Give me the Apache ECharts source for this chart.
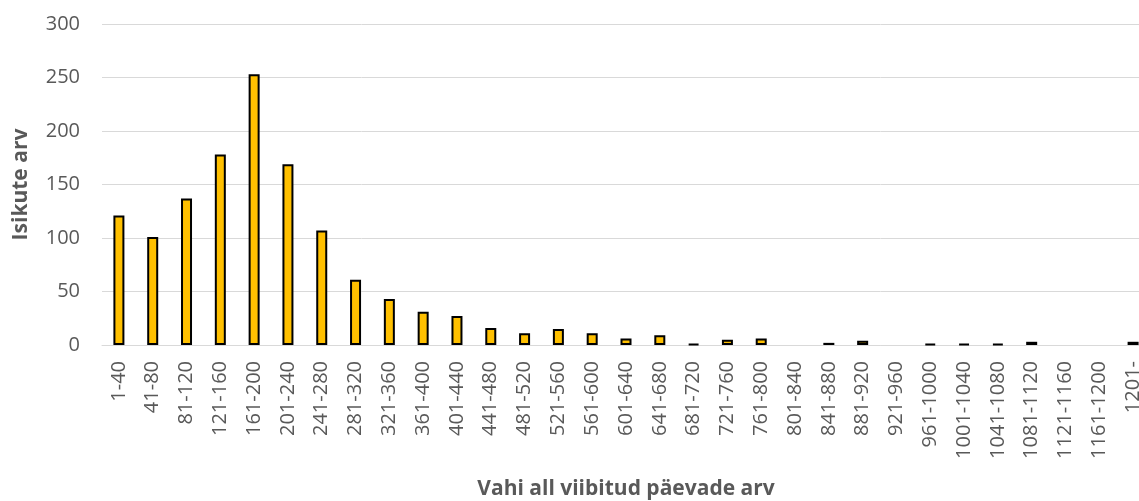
<!DOCTYPE html>
<html>
<head>
<meta charset="utf-8">
<script src="https://cdn.jsdelivr.net/npm/echarts@6/dist/echarts.min.js"></script>
<style>
  html, body { margin: 0; padding: 0; background: #fff; }
  #chart { width: 1139px; height: 501px; }
</style>
</head>
<body>
<div id="chart"></div>
<script>
var categories = ["1-40", "41-80", "81-120", "121-160", "161-200", "201-240", "241-280",
    "281-320", "321-360", "361-400", "401-440", "441-480", "481-520", "521-560",
    "561-600", "601-640", "641-680", "681-720", "721-760", "761-800", "801-840",
    "841-880", "881-920", "921-960", "961-1000", "1001-1040", "1041-1080",
    "1081-1120", "1121-1160", "1161-1200", "1201-"];
var counts = [121, 101, 137, 178, 253, 169, 107, 61, 43, 31, 27, 16, 11, 15, 11, 6, 9,
    1, 5, 6, 0, 2, 4, 0, 1, 1, 1, 3, 0, 0, 3];
var yTicks = [0, 50, 100, 150, 200, 250, 300];

// empty classes draw no bar at all (no outline on the axis)
var barData = counts.map(function (v) { return v === 0 ? null : v; });

var chart = echarts.init(document.getElementById("chart"));
var fontFam = "'Open Sans', 'Liberation Sans', sans-serif";
var option = {
    animation: false,
    grid: {
        left: 102,
        top: 24,
        width: 1048,
        bottom: 156,
        containLabel: false,
        outerBoundsMode: "none"
    },
    xAxis: {
        type: "category",
        data: categories,
        name: "Vahi all viibitud päevade arv",
        nameLocation: "middle",
        nameGap: 134,
        nameTextStyle: {color: "#595959", fontSize: 21, fontWeight: "bold", fontFamily: fontFam},
        axisLine: {lineStyle: {color: "#d9d9d9", width: 1}},
        axisTick: {show: false},
        axisLabel: {
            interval: 0,
            rotate: 90,
            margin: 16,
            color: "#595959",
            fontSize: 20,
            fontFamily: fontFam
        }
    },
    yAxis: {
        type: "value",
        min: yTicks[0],
        max: yTicks[yTicks.length - 1],
        interval: 50,
        name: "Isikute arv",
        nameLocation: "middle",
        nameGap: 70,
        nameTextStyle: {color: "#595959", fontSize: 21, fontWeight: "bold", fontFamily: fontFam},
        axisLine: {show: false},
        axisTick: {show: false},
        axisLabel: {color: "#595959", fontSize: 20, margin: 22, fontFamily: fontFam},
        splitLine: {lineStyle: {color: "#d9d9d9", width: 1}}
    },
    series: [{
        type: "bar",
        data: barData,
        barWidth: 11,
        itemStyle: {color: "#FFC000", borderColor: "#000000", borderWidth: 2}
    }]
};
chart.setOption(option);
</script>
</body>
</html>
